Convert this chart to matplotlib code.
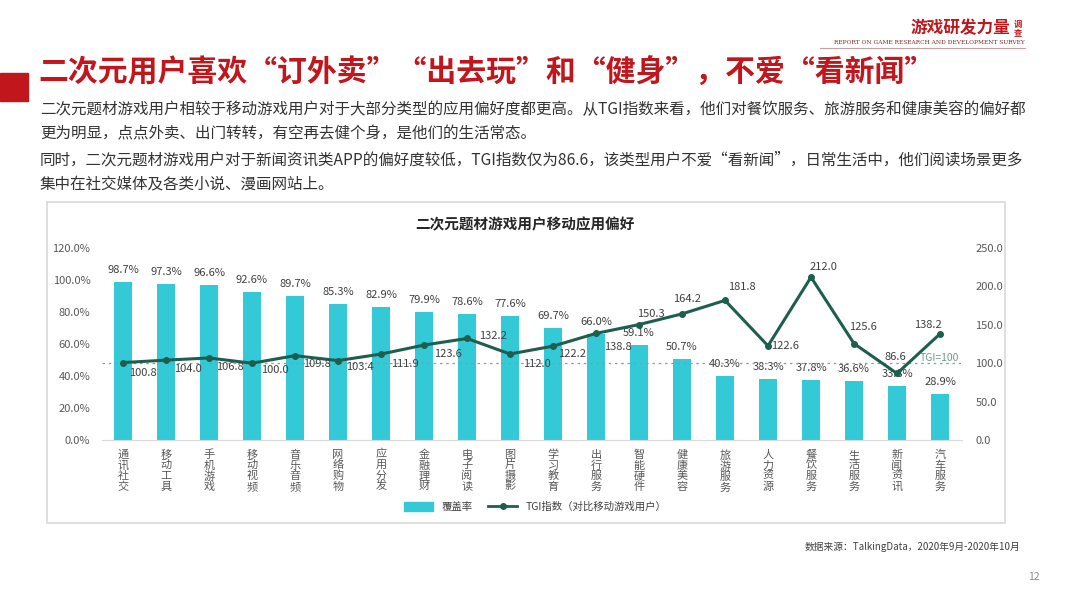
import matplotlib
matplotlib.use("Agg")
import matplotlib.pyplot as plt
from matplotlib.patches import Rectangle
from matplotlib.lines import Line2D
from matplotlib.patches import Patch

plt.rcParams['font.family'] = ['Noto Sans CJK SC', 'DejaVu Sans']

categories = ["通讯社交", "移动工具", "手机游戏", "移动视频", "音乐音频", "网络购物", "应用分发",
              "金融理财", "电子阅读", "图片摄影", "学习教育", "出行服务", "智能硬件", "健康美容",
              "旅游服务", "人力资源", "餐饮服务", "生活服务", "新闻资讯", "汽车服务"]
coverage = [98.7, 97.3, 96.6, 92.6, 89.7, 85.3, 82.9, 79.9, 78.6, 77.6,
            69.7, 66.0, 59.1, 50.7, 40.3, 38.3, 37.8, 36.6, 33.8, 28.9]
tgi = [100.8, 104.0, 106.8, 100.0, 109.8, 103.4, 111.9, 123.6, 132.2, 112.0,
       122.2, 138.8, 150.3, 164.2, 181.8, 122.6, 212.0, 125.6, 86.6, 138.2]
left_ticks = [0, 20, 40, 60, 80, 100, 120]
right_ticks = [0, 50, 100, 150, 200, 250]

# where each TGI label sits relative to its point (pixels)
tgi_offsets = [(20, -10), (22, -9), (21, -9), (23, -7), (22, -8), (22, -6), (24, -10),
               (24, -9), (26, 2), (27, -10), (19, -8), (22, -14), (12, 11), (5, 15),
               (17, 13), (17, 0), (12, 10), (9, 17), (-2, 16), (-12, 9)]

W, H = 1080, 599
fig = plt.figure(figsize=(10.8, 5.99), dpi=100)


def fx(x):
    return x / W


def fy(y):
    return 1 - y / H


red = "#c0161c"
bar_col = "#33c9d6"
line_col = "#1f5e4e"
gray = "#595959"

# header
fig.patches.append(Rectangle((0, fy(101)), fx(28), 28 / H, transform=fig.transFigure,
                             color=red, zorder=1))
fig.text(fx(38), fy(73), "二次元用户喜欢“订外卖”“出去玩”和“健身”，不爱“看新闻”",
         fontsize=21.5, fontweight="bold", color=red, va="center", ha="left")
fig.text(fx(1010), fy(28), "游戏研发力量", fontsize=12, fontweight="bold", color=red,
         style="italic", ha="right", va="center")
fig.text(fx(1018), fy(24), "调", fontsize=6, fontweight="bold", color=red, ha="center", va="center")
fig.text(fx(1018), fy(33), "查", fontsize=6, fontweight="bold", color=red, ha="center", va="center")
fig.text(fx(1025), fy(43), "REPORT ON GAME RESEARCH AND DEVELOPMENT SURVEY", fontsize=4.2,
         family="DejaVu Serif", color="#7a2a2a", ha="right", va="center")
fig.add_artist(Line2D([fx(820), fx(1025)], [fy(48), fy(48)], color="#c9a0a0", lw=0.8))

body = ["二次元题材游戏用户相较于移动游戏用户对于大部分类型的应用偏好度都更高。从TGI指数来看，他们对餐饮服务、旅游服务和健康美容的偏好都",
        "更为明显，点点外卖、出门转转，有空再去健个身，是他们的生活常态。",
        "同时，二次元题材游戏用户对于新闻资讯类APP的偏好度较低，TGI指数仅为86.6，该类型用户不爱“看新闻”，日常生活中，他们阅读场景更多",
        "集中在社交媒体及各类小说、漫画网站上。"]
for line, y in zip(body, [110, 134, 160, 184]):
    fig.text(fx(40), fy(y), line, fontsize=11.2, color="#333333", ha="left", va="center")

# chart box
fig.patches.append(Rectangle((fx(47), fy(523)), fx(1005 - 47), (523 - 202) / H,
                             transform=fig.transFigure, fill=False, edgecolor="#d9d9d9",
                             lw=1.2, zorder=0))
fig.text(fx(525), fy(224), "二次元题材游戏用户移动应用偏好", fontsize=10.5, fontweight="bold",
         color="#262626", ha="center", va="center")

ax = fig.add_axes([fx(101.5), fy(440), fx(961.5 - 101.5), (440 - 248) / H])
x = list(range(len(categories)))
ax.bar(x, coverage, width=0.44, color=bar_col, zorder=2)
ax.set_xlim(-0.5, len(categories) - 0.5)
ax.set_ylim(0, 120)
ax.set_yticks(left_ticks)
ax.set_yticklabels([f"{t:.1f}%" for t in left_ticks], fontsize=8, color=gray)
ax.set_xticks(x)
ax.set_xticklabels(["\n".join(c) for c in categories], fontsize=8, color=gray,
                   linespacing=1.05, va="top")
ax.tick_params(length=0, pad=8)
ax.tick_params(axis="x", pad=7)
for s in ["top", "right", "left"]:
    ax.spines[s].set_visible(False)
ax.spines["bottom"].set_color("#d9d9d9")
for xi, v in zip(x, coverage):
    ax.annotate(f"{v:.1f}%", (xi, v), xytext=(0, 12), textcoords="offset pixels",
                ha="center", va="center", fontsize=8, color="#404040")

ax2 = ax.twinx()
ax2.set_ylim(0, 250)
ax2.set_yticks(right_ticks)
ax2.set_yticklabels([f"{t:.1f}" for t in right_ticks], fontsize=8, color=gray)
ax2.tick_params(length=0, pad=10)
for s in ax2.spines.values():
    s.set_visible(False)
ax2.axhline(100, color="#8c9c96", lw=0.9, ls=(0, (2, 3)), zorder=1)
ax2.plot(x, tgi, color=line_col, lw=2.2, marker="o", markersize=4, zorder=3)
for xi, v, (dx, dy) in zip(x, tgi, tgi_offsets):
    ax2.annotate(f"{v:.1f}", (xi, v), xytext=(dx, dy), textcoords="offset pixels",
                 ha="center", va="center", fontsize=8, color="#404040")
ax2.text(19.45, 100, "TGI=100", fontsize=7.5, color="#6f9a8c", ha="right", va="bottom")

handles = [Patch(color=bar_col, label="覆盖率"),
           Line2D([0], [0], color=line_col, lw=2, marker="o", markersize=4,
                  label="TGI指数（对比移动游戏用户）")]
fig.legend(handles=handles, loc="center", bbox_to_anchor=(fx(535), fy(507)), ncol=2,
           frameon=False, fontsize=7.5, handlelength=2.8, handleheight=0.9, columnspacing=1.5,
           labelcolor="#404040")

fig.text(fx(1020), fy(547), "数据来源：TalkingData，2020年9月-2020年10月", fontsize=7,
         style="italic", color="#404040", ha="right", va="center")
fig.text(fx(1040), fy(577), "12", fontsize=7.5, color="#8c8c8c", ha="right", va="center")

fig.savefig("out.png", dpi=100)
